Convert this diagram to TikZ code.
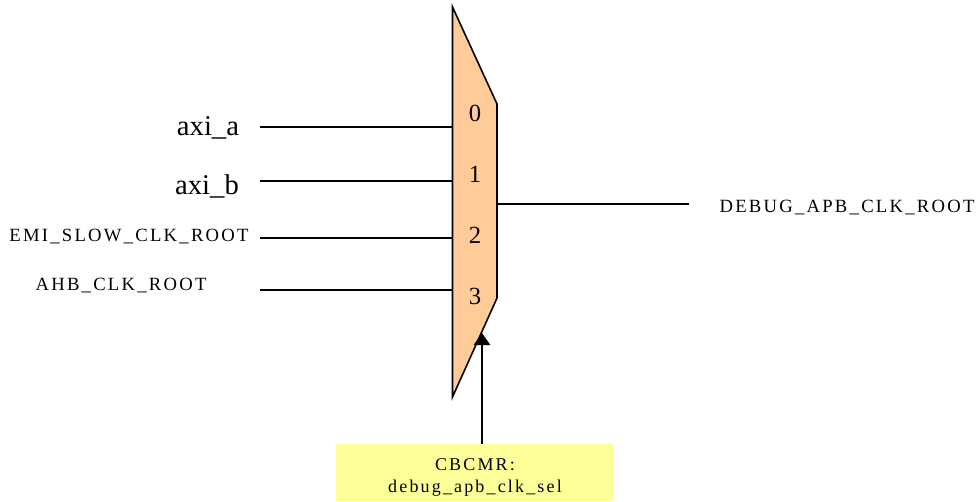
\documentclass[tikz,border=0pt]{standalone}
\usepackage{fontspec}
\setmainfont{Liberation Serif}
\newfontfamily\widefont[LetterSpace=12]{Liberation Serif}
\usepackage{xcolor}
\usetikzlibrary{arrows.meta, positioning, calc}
\definecolor{muxfill}{HTML}{FFCC99}
\definecolor{selfill}{HTML}{FFFF99}

\begin{document}
\begin{tikzpicture}[x=0.75pt,y=-0.75pt,
    wire/.style={line width=1.2pt},
    biglabel/.style={font=\fontsize{21.5}{25}\selectfont,inner sep=0pt},
    smalllabel/.style={font=\fontsize{14}{17}\selectfont\widefont,inner sep=0pt},
    sellabel/.style={font=\fontsize{13.5}{16}\selectfont\widefont,inner sep=0pt},
    muxnum/.style={font=\fontsize{18.5}{22}\selectfont,inner sep=0pt}]
  \useasboundingbox (0,0) rectangle (978,501);

  % Mux corners
  \coordinate (TL) at (452.5,7);
  \coordinate (TR) at (497,104);
  \coordinate (BR) at (497,298);
  \coordinate (BL) at (452.5,397);

  % Draw mux
  \draw[wire,fill=muxfill] (TL) -- (TR) -- (BR) -- (BL) -- cycle;

  % Inputs
  \coordinate (InA) at (260,127);
  \coordinate (InB) at (260,181);
  \coordinate (InC) at (260,238);
  \coordinate (InD) at (260,290);
  \coordinate (PortA) at (452.5,127);
  \coordinate (PortB) at (452.5,181);
  \coordinate (PortC) at (452.5,238);
  \coordinate (PortD) at (452.5,290);
  \draw[wire] (InA) -- (PortA);
  \draw[wire] (InB) -- (PortB);
  \draw[wire] (InC) -- (PortC);
  \draw[wire] (InD) -- (PortD);

  % Output
  \coordinate (OutStart) at (497,204);
  \coordinate (OutEnd) at (689,204);
  \draw[wire] (OutStart) -- (OutEnd);

  % Port numbers
  \node[muxnum] (Num0) at (475,113) {0};
  \node[muxnum] (Num1) at (475,174) {1};
  \node[muxnum] (Num2) at (475,235) {2};
  \node[muxnum] (Num3) at (475,296) {3};

  % Labels
  \node[biglabel] (LabelA) at (208,128) {axi\_a};
  \node[biglabel] (LabelB) at (207,186) {axi\_b};
  \node[smalllabel] (LabelC) at (129,237) {EMI\_SLOW\_CLK\_ROOT};
  \node[smalllabel] (LabelD) at (121,286) {AHB\_CLK\_ROOT};
  \node[smalllabel] (LabelOut) at (847,208) {DEBUG\_APB\_CLK\_ROOT};

  % Select box
  \fill[selfill] (336,444) rectangle (613,501);
  \coordinate (SelTop) at (482,444);
  \coordinate (SelTip) at (482,333);
  \draw[line width=2.2pt,-{Triangle[length=9pt,width=12pt]}] (SelTop) -- (SelTip);
  \node[sellabel] (SelA) at (475,465) {CBCMR:};
  \node[sellabel] (SelB) at (475,488) {debug\_apb\_clk\_sel};
\end{tikzpicture}
\end{document}
